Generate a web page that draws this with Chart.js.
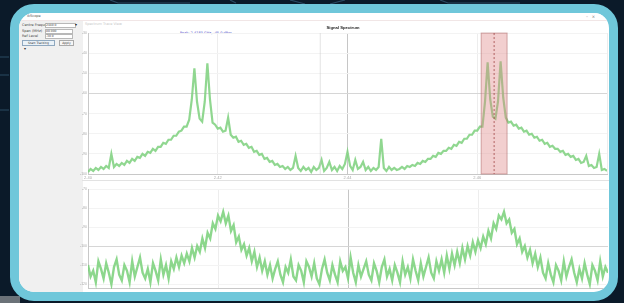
<!DOCTYPE html>
<html>
<head>
<meta charset="utf-8">
<script src="https://cdn.jsdelivr.net/npm/chart.js@4.4.1/dist/chart.umd.min.js"></script>
<style>
  html, body { margin: 0; padding: 0; }
  body { width: 624px; height: 303px; background: #0b1a29; position: relative; overflow: hidden; font-family: "DejaVu Sans", sans-serif; }
  #deco { position: absolute; left: 0; top: 0; }
  #frame { position: absolute; left: 10px; top: 4px; width: 608px; height: 297px; box-sizing: border-box;
           border: 9px solid #6fc7da; border-radius: 24px; background: #fff; overflow: hidden; }
  .abs { position: absolute; white-space: nowrap; }
  #titlebar { left: 0; top: 0; width: 590px; height: 7px; background: #fff; border-bottom: 1px solid #f1e6e6; }
  #panel { left: 0; top: 8px; width: 64px; height: 271px; background: #f0f0f0; }
  .lbl { font-size: 3.5px; color: #444; }
  .box { background: #fff; border: 1px solid #b8b8b8; height: 3px; }
  .btn { background: #eaf2f8; border: 1px solid #8fa8bf; height: 4px; font-size: 3px; color: #333; text-align: center; line-height: 4px; }
  canvas { position: absolute; }
</style>
</head>
<body>
<svg id="deco" width="624" height="303">
  <g stroke="#2b4a63" stroke-width="1.2" fill="none">
    <path d="M0 57 H9 M0 75 H9 M0 110 H9"/>
    <path d="M110 0 L118 3 H190 M230 0 L236 3"/>
    <path d="M290 0 L305 4 M330 4 L345 0"/>
    <path d="M440 0 L448 3 H520"/>
  </g>
  <rect x="0" y="296" width="20" height="7" fill="#6b7278"/>
</svg>

<div id="frame">
  <div id="titlebar" class="abs"></div>
  <div class="abs lbl" style="left:8px;top:1px;font-size:3.5px;color:#555">IkScope</div>
  <div class="abs lbl" style="left:567px;top:1px;font-size:4px;color:#777">–&nbsp;&nbsp;&nbsp;×</div>

  <div id="panel" class="abs"></div>
  <div class="abs lbl" style="left:3px;top:10px">Centre Frequency</div>
  <div class="abs box" style="left:26px;top:10px;width:29px"></div>
  <div class="abs lbl" style="left:27px;top:10px;font-size:3px">2440.0</div>
  <div class="abs lbl" style="left:56px;top:9px;font-size:4px;color:#222">▾</div>
  <div class="abs lbl" style="left:3px;top:16px">Span (MHz)</div>
  <div class="abs box" style="left:26px;top:16px;width:26px"></div>
  <div class="abs lbl" style="left:27px;top:16px;font-size:3px">80.000</div>
  <div class="abs lbl" style="left:3px;top:21px">Ref Level</div>
  <div class="abs box" style="left:26px;top:21px;width:26px"></div>
  <div class="abs lbl" style="left:27px;top:21px;font-size:3px">-30.0</div>
  <div class="abs btn" style="left:3px;top:27px;width:31px">Start Tracking</div>
  <div class="abs btn" style="left:40px;top:27px;width:13px;background:#f6f6f6;border-color:#aaa">Apply</div>
  <div class="abs lbl" style="left:5px;top:33px;font-size:4px;color:#333">▾</div>

  <div class="abs lbl" style="left:66px;top:9px;font-size:3.5px;color:#c8c8c8">Spectrum Trace View</div>
  <div class="abs lbl" style="left:161px;top:18px;font-size:3.5px;color:#4a4ac8">Peak: 2.4183 GHz, -45.0 dBm</div>
  <div class="abs" style="left:63px;top:167px;width:527px;height:1px;background:#e2e2e2"></div>

  <canvas id="spectrum" width="530" height="161" style="left:59px;top:8px"></canvas>
  <canvas id="trace" width="530" height="107" style="left:59px;top:172px"></canvas>
</div>

<script>
// Частотна вісь (МГц)
const spectrumStartMHz = 2400;
const binWidthMHz = 0.4;
const freqTicks = [2400, 2420, 2440, 2460, 2480];
const freqTickLabels = ['2.40', '2.42', '2.44', '2.46', ''];
const spectrumTicks = [-30, -40, -50, -60, -70, -80, -90, -100];
const traceTicks = [-70, -80, -90, -100, -110, -120];

// Маркер трекінгу
const trackBandMHz = [2460.6, 2464.6];
const trackCentreMHz = 2462.6;
const cursorMHz = 2435.8;

// Спектр сигналу (dBm)
const spectrumDbm = [
  -99, -97.5, -98.5, -97, -98, -96.5, -97.5, -96, -97, -90,
  -96.5, -95, -96, -94.5, -95.5, -93.5, -94.5, -92.5, -93.5, -91.5,
  -92, -90, -91, -89, -89.5, -87.5, -88.5, -86.5, -86.5, -84.5,
  -85, -83, -83, -81, -81, -79, -78.5, -76.5, -76.5, -73,
  -63, -47.5, -64, -72.5, -74, -64, -45, -63, -74.5, -75.5,
  -77.5, -77, -79, -78.5, -72, -80.5, -82, -81.5, -84, -83.5,
  -85.5, -85, -87, -86.5, -89, -88.5, -90.5, -90, -92.5, -92,
  -94, -93.5, -95.5, -95, -96.5, -96, -97.5, -96.5, -98, -97,
  -91, -97, -98.5, -96.5, -98, -97, -99, -96.5, -98, -97,
  -93, -98.5, -97, -94, -98, -96.5, -98.5, -96, -97.5, -95,
  -89, -96, -98, -93, -97.5, -96.5, -94, -98, -96.5, -98.5,
  -97, -98, -96.5, -82.5, -97, -98.5, -96.5, -98, -97, -98,
  -97.5, -96.5, -97.5, -96, -96.5, -95.5, -96, -94.5, -95, -93.5,
  -94, -92.5, -92.5, -91, -91.5, -89.5, -90, -88.5, -88.5, -87,
  -87.5, -85.5, -86, -84, -84.5, -82.5, -82.5, -80.5, -80.5, -78.5,
  -78.5, -76.5, -76.5, -64, -44.5, -63, -71.5, -72.5, -64, -44,
  -62, -72, -74.5, -74, -76, -75.5, -77.5, -77, -79, -78.5,
  -80.5, -80, -82, -81.5, -83.5, -83, -85, -84.5, -86.5, -86,
  -87.5, -87.5, -89, -88.5, -90.5, -90, -91.5, -91, -93, -92.5,
  -94.5, -94, -91, -96, -95.5, -97, -96.5, -90, -98, -97.5,
  -98.5
];

// Усереднений трек (dBm)
const traceDbm = [
  -110, -116, -113, -119, -108, -112, -117, -109, -114, -120,
  -111, -107, -115, -118, -110, -113, -119, -108, -116, -111,
  -106, -114, -117, -112, -119, -109, -113, -118, -107, -115,
  -110, -117, -108, -112, -106,
  -111, -105, -109, -104, -108, -101, -106, -100, -103, -96,
  -101, -93, -96, -88, -91, -84, -87, -82, -88, -84,
  -92, -89, -98, -95, -102, -99, -105, -101, -108, -103,
  -111, -106, -113, -108, -115,
  -110, -117, -112, -108, -115, -119, -111, -114, -107, -116,
  -118, -110, -113, -119, -108, -111, -116, -109, -117, -120,
  -112, -107, -114, -118, -110, -115, -119, -108, -113, -111,
  -117, -106, -114, -119, -110, -116, -112, -108, -115, -118,
  -109, -113, -119, -111, -107, -116, -112, -118, -110, -114,
  -119, -108, -115, -111, -117, -107, -113, -118, -109, -116,
  -111, -106, -114, -117, -108, -113,
  -107, -114, -105, -112, -104, -110, -103, -109, -101, -107,
  -100, -105, -98, -103, -97, -101, -95, -99, -92, -96,
  -88, -91, -84, -86, -82, -88, -86, -93, -91, -99,
  -96, -103, -100, -106, -102, -109, -104,
  -111, -106, -114, -117, -109, -115, -119, -110, -113, -118,
  -108, -116, -111, -107, -114, -119, -112, -117, -109, -115,
  -120, -110, -113, -118, -108, -116, -111, -114
];

const toPoints = arr => arr.map((v, i) => ({ x: spectrumStartMHz + i * binWidthMHz, y: v }));

// Смуга трекінгу + курсор
const markerPlugin = {
  id: 'marker',
  afterDatasetsDraw(chart, args, opts) {
    if (!opts.show) return;
    const { ctx, chartArea: a, scales: { x } } = chart;
    const x1 = x.getPixelForValue(trackBandMHz[0]);
    const x2 = x.getPixelForValue(trackBandMHz[1]);
    const xc = x.getPixelForValue(trackCentreMHz);
    const xk = x.getPixelForValue(cursorMHz);
    ctx.save();
    ctx.strokeStyle = 'rgba(200,200,200,0.5)';
    ctx.lineWidth = 1;
    ctx.beginPath(); ctx.moveTo(xk, a.top); ctx.lineTo(xk, a.bottom); ctx.stroke();
    ctx.fillStyle = 'rgba(222,135,135,0.4)';
    ctx.fillRect(x1, a.top, x2 - x1, a.bottom - a.top);
    ctx.strokeStyle = 'rgba(160,80,80,0.45)';
    ctx.strokeRect(x1, a.top, x2 - x1, a.bottom - a.top);
    ctx.strokeStyle = 'rgba(150,50,50,0.7)';
    ctx.setLineDash([2, 2]);
    ctx.beginPath(); ctx.moveTo(xc, a.top); ctx.lineTo(xc, a.bottom); ctx.stroke();
    ctx.restore();
  }
};

function makeOptions(yTicks, yMin, yMax, opts) {
  return {
    responsive: false,
    animation: false,
    layout: { padding: { top: opts.padTop, right: 0, left: 0, bottom: 0 } },
    elements: { point: { radius: 0 }, line: { tension: 0 } },
    plugins: {
      legend: { display: false },
      tooltip: { enabled: false },
      title: {
        display: !!opts.title,
        text: opts.title,
        color: '#222',
        font: { size: 4.2, weight: 'bold' },
        padding: { top: 4, bottom: 3 }
      },
      marker: { show: !!opts.marker }
    },
    scales: {
      x: {
        type: 'linear',
        min: freqTicks[0],
        max: freqTicks[freqTicks.length - 1],
        afterBuildTicks: s => { s.ticks = freqTicks.map(v => ({ value: v })); },
        afterFit: s => { s.height = opts.xHeight; },
        ticks: {
          display: opts.xHeight > 0,
          font: { size: 4 },
          color: '#aaa',
          padding: 1,
          maxRotation: 0,
          callback: (v, i) => freqTickLabels[i]
        },
        grid: {
          color: c => (c.tick && c.tick.value === 2440 ? '#c6c6c6' : '#ededed'),
          drawTicks: false
        },
        border: { color: '#c8c8c8' }
      },
      y: {
        min: yMin,
        max: yMax,
        afterBuildTicks: s => { s.ticks = yTicks.map(v => ({ value: v })); },
        afterFit: s => { s.width = 10; },
        ticks: { font: { size: 3.5 }, color: '#aaa', padding: 1 },
        grid: {
          color: c => (c.tick && c.tick.value === opts.darkLine ? '#d6d6d6' : '#f3f3f3'),
          drawTicks: false
        },
        border: { color: '#c8c8c8' }
      }
    }
  };
}

new Chart(document.getElementById('spectrum'), {
  type: 'line',
  data: {
    datasets: [{
      data: toPoints(spectrumDbm),
      borderColor: 'rgba(125,208,125,0.85)',
      borderWidth: 2.2
    }]
  },
  options: makeOptions(spectrumTicks, -100, -30,
    { title: 'Signal Spectrum', marker: true, xHeight: 8, padTop: 0, darkLine: -60 }),
  plugins: [markerPlugin]
});

new Chart(document.getElementById('trace'), {
  type: 'line',
  data: {
    datasets: [{
      data: toPoints(traceDbm),
      borderColor: 'rgba(120,208,120,0.85)',
      borderWidth: 2.4
    }]
  },
  options: makeOptions(traceTicks, -122.5, -70,
    { title: '', marker: false, xHeight: 0, padTop: 4, darkLine: -100 }),
  plugins: [markerPlugin]
});
</script>
</body>
</html>
